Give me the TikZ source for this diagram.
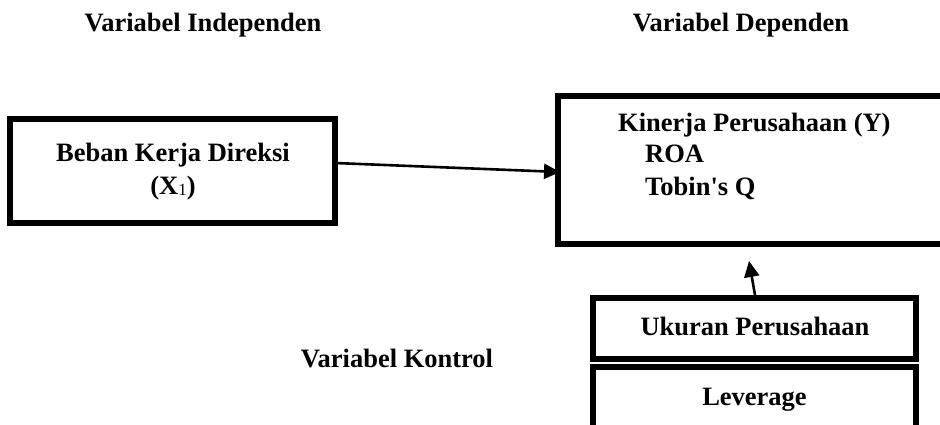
\documentclass[tikz,border=0pt]{standalone}
\usepackage{fontspec}
\setmainfont{Liberation Serif}
\usetikzlibrary{arrows.meta}
\begin{document}
\begin{tikzpicture}[x=1pt,y=-1pt,
  boxstyle/.style={draw, line width=6pt, rectangle, inner sep=0pt, outer sep=0pt},
  lbl/.style={inner sep=0pt, font=\fontsize{26.5}{31}\selectfont\bfseries},
  arr/.style={line width=2.6pt, -{Triangle[length=16pt,width=15pt]}}]
\useasboundingbox (0,0) rectangle (940,425);
\clip (0,0) rectangle (940,425);
% boxes
\node[boxstyle, minimum width=325pt, minimum height=104pt] (b1) at (172.5,171) {};
\node[boxstyle, minimum width=402pt, minimum height=148pt] (b2) at (759,170) {};
\node[boxstyle, minimum width=323pt, minimum height=61pt] (b3) at (754.5,328.5) {};
\node[boxstyle, minimum width=323pt, minimum height=83pt] (b4) at (754.5,408.5) {};
% texts
\node[lbl, anchor=base] (t1) at (203,32) {Variabel Independen};
\node[lbl, anchor=base] (t2) at (741,32) {Variabel Dependen};
\node[lbl, anchor=base] (t3) at (397,367) {Variabel Kontrol};
\node[lbl, anchor=base] (x1a) at (173,161) {Beban Kerja Direksi};
\node[lbl, anchor=base] (x1b) at (173,194) {(X\raisebox{-1.5pt}{\fontsize{17}{17}\selectfont\mdseries 1})};
\node[lbl, anchor=base west] (y1) at (618,132) {Kinerja Perusahaan (Y)};
\node[lbl, anchor=base west] (y2) at (645,163) {ROA};
\node[lbl, anchor=base west] (y3) at (645,195) {Tobin\textquotesingle s Q};
\node[lbl, anchor=base] (c1) at (755,335) {Ukuran Perusahaan};
\node[lbl, anchor=base] (c2) at (754.5,405) {Leverage};
% connectors
\draw[arr] ([yshift=8pt]b1.east) -- ([xshift=2pt,yshift=-2pt]b2.west);
\draw[arr] ([xshift=0.5pt,yshift=3pt]b3.north) -- ([xshift=-10pt,yshift=-17pt]b2.south);
\end{tikzpicture}
\end{document}
